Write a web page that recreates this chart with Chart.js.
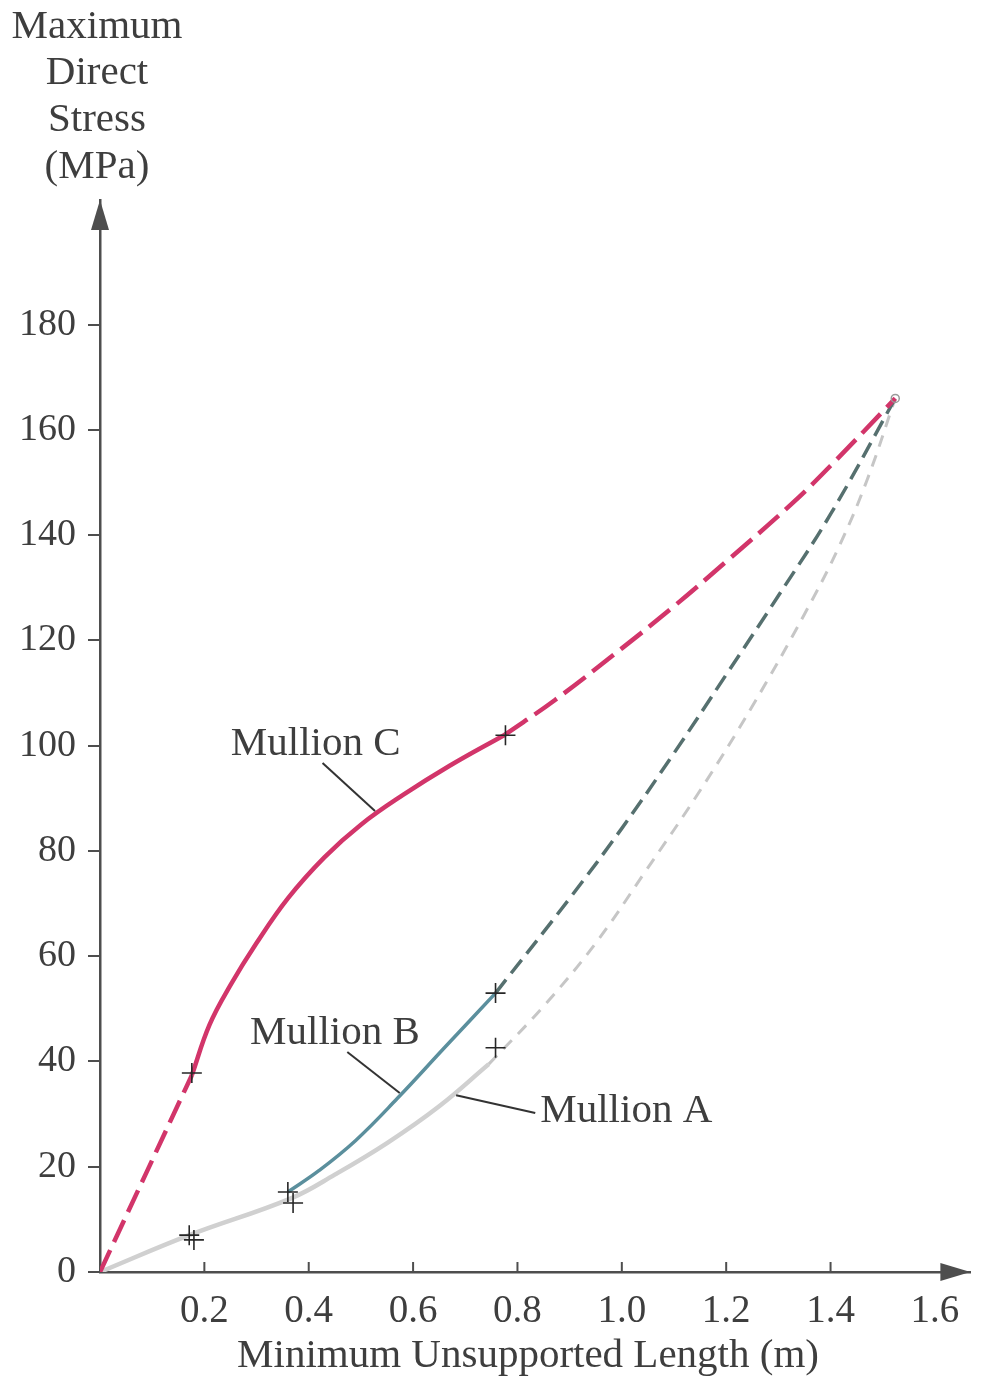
<!DOCTYPE html>
<html>
<head>
<meta charset="utf-8">
<title>Maximum Direct Stress vs Minimum Unsupported Length</title>
<script src="https://cdn.jsdelivr.net/npm/chart.js@4.4.1/dist/chart.umd.min.js"></script>
<style>
  html, body { margin: 0; padding: 0; background: #ffffff; }
  #wrap { width: 982px; height: 1381px; position: relative; }
  canvas { display: block; }
</style>
</head>
<body>
<div id="wrap"><canvas id="chart" width="982" height="1381"></canvas></div>
<script>
// ---------- axis ticks ----------
const xTickValues = [0.2, 0.4, 0.6, 0.8, 1.0, 1.2, 1.4, 1.6];
const xTickMarkValues = [0.2, 0.4, 0.6, 0.8, 1.0, 1.2, 1.4];
const yTickValues = [0, 20, 40, 60, 80, 100, 120, 140, 160, 180];

// ---------- Mullion A (light grey) ----------
const mullionASolidX = [0, 0.171, 0.366, 0.45, 0.55, 0.65, 0.745];
const mullionASolidY = [0, 7.0, 14.0, 18.5, 24.5, 31.5, 39.5];
const mullionADashX = [0.745, 0.85, 0.95, 1.043, 1.15, 1.25, 1.35, 1.416, 1.47, 1.524];
const mullionADashY = [39.5, 50.5, 62.5, 75.8, 91.5, 107.5, 125.0, 137.8, 150.5, 166.0];

// ---------- Mullion B (teal) ----------
const mullionBSolidX = [0.36, 0.42, 0.49, 0.57, 0.66, 0.758];
const mullionBSolidY = [15.2, 19.3, 25.0, 33.0, 42.6, 53.0];
const mullionBDashX = [0.758, 0.9, 1.0, 1.1, 1.2, 1.3, 1.4, 1.524];
const mullionBDashY = [53.0, 71.0, 84.3, 98.6, 113.5, 128.5, 144.0, 166.0];

// ---------- Mullion C (crimson) ----------
const mullionCLeadX = [0, 0.176];
const mullionCLeadY = [0, 37.4];
const mullionCSolidX = [0.176, 0.21, 0.25, 0.3, 0.36, 0.43, 0.5, 0.58, 0.67, 0.776];
const mullionCSolidY = [37.4, 47.0, 54.5, 62.5, 71.0, 78.8, 85.0, 90.6, 96.2, 102.1];
const mullionCDashX = [0.776, 0.872, 1.0, 1.1, 1.2, 1.327, 1.4, 1.524];
const mullionCDashY = [102.1, 108.7, 118.5, 126.5, 135.0, 146.1, 153.2, 166.0];

// ---------- measured points (+) ----------
const markX = [0.171, 0.180, 0.176, 0.360, 0.370, 0.758, 0.758, 0.777];
const markY = [7.0, 6.1, 37.8, 15.2, 13.1, 53.0, 42.6, 102.0];

// common end point of the three curves
const endX = [1.524];
const endY = [166.0];

// ---------- text ----------
const yTitleLines = ['Maximum', 'Direct', 'Stress', '(MPa)'];
const xTitle = 'Minimum Unsupported Length (m)';

// Curve labels with leader lines (anchored in data units)
const callouts = [
  { text: 'Mullion C', label: [0.4133, 100.3], from: [0.4265, 96.7], to: [0.527, 87.6] },
  { text: 'Mullion B', label: [0.4502, 45.4], from: [0.4739, 41.8], to: [0.5744, 34.0] },
  { text: 'Mullion A', label: [1.0085, 30.6], from: [0.8341, 30.2], to: [0.6825, 33.6] }
];

// ---------- styling ----------
const SERIF = '"Liberation Serif", "Times New Roman", Times, serif';
const INK = '#3e3e3e';
const AXIS = '#4e4e4e';
const C_COLOR = '#d2356a';
const B_SOLID = '#5b8f9d';
const B_DASH = '#56706f';
const A_SOLID = '#d0d0d0';
const A_DASH = '#c6c6c6';

const zip = (xs, ys) => xs.map((x, i) => ({ x: x, y: ys[i] }));

function curve(xs, ys, color, width, dash, order) {
  return {
    data: zip(xs, ys),
    borderColor: color,
    borderWidth: width,
    borderDash: dash,
    borderCapStyle: 'butt',
    pointRadius: 0,
    fill: false,
    tension: 0.4,
    showLine: true,
    order: order
  };
}

const decor = {
  id: 'decor',
  beforeDraw(chart) {
    const ctx = chart.ctx;
    ctx.save();
    ctx.fillStyle = '#ffffff';
    ctx.fillRect(0, 0, chart.width, chart.height);
    ctx.restore();
  },
  afterDraw(chart) {
    const { ctx, chartArea: a, scales: { x, y } } = chart;
    ctx.save();

    // x tick marks point up into the plot
    ctx.strokeStyle = AXIS;
    ctx.lineWidth = 2;
    xTickMarkValues.forEach(v => {
      const px = x.getPixelForValue(v);
      ctx.beginPath();
      ctx.moveTo(px, a.bottom);
      ctx.lineTo(px, a.bottom - 10);
      ctx.stroke();
    });

    // arrowheads on both axes
    ctx.fillStyle = AXIS;
    ctx.beginPath();
    ctx.moveTo(a.left, a.top);
    ctx.lineTo(a.left - 9, a.top + 30);
    ctx.lineTo(a.left + 9, a.top + 30);
    ctx.closePath();
    ctx.fill();
    ctx.beginPath();
    ctx.moveTo(a.right, a.bottom);
    ctx.lineTo(a.right - 30, a.bottom - 9);
    ctx.lineTo(a.right - 30, a.bottom + 9);
    ctx.closePath();
    ctx.fill();

    // y-axis title stacked above the arrow
    ctx.fillStyle = INK;
    ctx.font = '41px ' + SERIF;
    ctx.textAlign = 'center';
    ctx.textBaseline = 'middle';
    yTitleLines.forEach((t, i) => ctx.fillText(t, 97, 27 + i * 46.7));

    // x-axis title
    ctx.fillText(xTitle, 528, 1356);

    // curve labels and leader lines
    ctx.strokeStyle = '#333333';
    ctx.lineWidth = 2;
    callouts.forEach(c => {
      ctx.beginPath();
      ctx.moveTo(x.getPixelForValue(c.from[0]), y.getPixelForValue(c.from[1]));
      ctx.lineTo(x.getPixelForValue(c.to[0]), y.getPixelForValue(c.to[1]));
      ctx.stroke();
      ctx.fillText(c.text, x.getPixelForValue(c.label[0]), y.getPixelForValue(c.label[1]));
    });

    ctx.restore();
  }
};

new Chart(document.getElementById('chart'), {
  type: 'scatter',
  data: {
    datasets: [
      {
        data: zip(markX, markY),
        pointStyle: 'cross',
        pointRadius: 10,
        pointBorderWidth: 1.6,
        pointBorderColor: '#262626',
        showLine: false,
        order: 0
      },
      {
        data: zip(endX, endY),
        pointStyle: 'circle',
        pointRadius: 4,
        pointBorderWidth: 1.5,
        pointBorderColor: '#9a9a9a',
        pointBackgroundColor: 'rgba(255,255,255,0)',
        showLine: false,
        order: 1
      },
      curve(mullionCLeadX, mullionCLeadY, C_COLOR, 4.5, [24, 9], 2),
      curve(mullionCSolidX, mullionCSolidY, C_COLOR, 4.5, [], 2),
      curve(mullionCDashX, mullionCDashY, C_COLOR, 4.5, [27, 9], 2),
      curve(mullionBSolidX, mullionBSolidY, B_SOLID, 3.5, [], 3),
      curve(mullionBDashX, mullionBDashY, B_DASH, 3.5, [17, 8], 3),
      curve(mullionASolidX, mullionASolidY, A_SOLID, 4.5, [], 4),
      curve(mullionADashX, mullionADashY, A_DASH, 3, [12, 9], 4)
    ]
  },
  options: {
    responsive: false,
    devicePixelRatio: 1,
    animation: false,
    events: [],
    layout: { padding: { top: 200, right: 2, bottom: 0, left: 0 } },
    plugins: { legend: { display: false }, tooltip: { enabled: false }, title: { display: false } },
    scales: {
      x: {
        type: 'linear',
        min: 0,
        max: 1.668,
        afterBuildTicks: s => { s.ticks = xTickValues.map(v => ({ value: v })); },
        afterFit: s => { s.height = 109; },
        grid: { display: false },
        border: { display: true, color: AXIS, width: 2.5 },
        ticks: {
          padding: 8,
          color: INK,
          font: { family: SERIF, size: 39 },
          maxRotation: 0,
          autoSkip: false,
          callback: v => v.toFixed(1)
        }
      },
      y: {
        type: 'linear',
        min: 0,
        max: 203.7,
        afterBuildTicks: s => { s.ticks = yTickValues.map(v => ({ value: v })); },
        afterFit: s => { s.width = 100; },
        grid: { drawOnChartArea: false, drawTicks: true, tickLength: 12, color: AXIS, lineWidth: 2 },
        border: { display: true, color: AXIS, width: 2.5 },
        ticks: {
          padding: 12,
          color: INK,
          font: { family: SERIF, size: 38 },
          autoSkip: false,
          callback: v => String(v)
        }
      }
    }
  },
  plugins: [decor]
});
</script>
</body>
</html>
